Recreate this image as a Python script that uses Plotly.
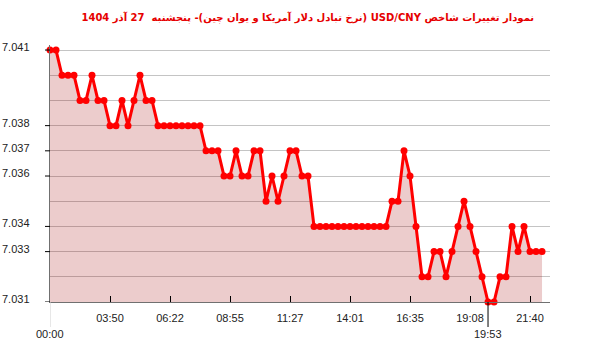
import plotly.graph_objects as go
import numpy as np

# Data (one value per sample, left to right)
values = [
    7.041, 7.041, 7.040, 7.040, 7.040, 7.039, 7.039, 7.040, 7.039, 7.039,
    7.038, 7.038, 7.039, 7.038, 7.039, 7.040, 7.039, 7.039, 7.038, 7.038,
    7.038, 7.038, 7.038, 7.038, 7.038, 7.038, 7.037, 7.037, 7.037, 7.036,
    7.036, 7.037, 7.036, 7.036, 7.037, 7.037, 7.035, 7.036, 7.035, 7.036,
    7.037, 7.037, 7.036, 7.036, 7.034, 7.034, 7.034, 7.034, 7.034, 7.034,
    7.034, 7.034, 7.034, 7.034, 7.034, 7.034, 7.034, 7.035, 7.035, 7.037,
    7.036, 7.034, 7.032, 7.032, 7.033, 7.033, 7.032, 7.033, 7.034, 7.035,
    7.034, 7.033, 7.032, 7.031, 7.031, 7.032, 7.032, 7.034, 7.033, 7.034,
    7.033, 7.033, 7.033,
]
x_idx = list(range(len(values)))

tick_idx = [10, 20, 30, 40, 50, 60, 70, 80]
tick_text = ["03:50", "06:22", "08:55", "11:27", "14:01", "16:35", "19:08", "21:40"]
extreme_text = {"max": "00:00", "min": "19:53"}

y_grid_start = 7.031
y_grid_step = 0.001
y_labels = [7.041, 7.038, 7.037, 7.036, 7.034, 7.033, 7.031]

title_text = "\u202bنمودار تغییرات شاخص USD/CNY (نرخ تبادل دلار آمریکا و یوان چین)- پنجشنبه  27 آذر 1404\u202c"

RED = "#ff0000"
FONT = "Liberation Sans"

fig = go.Figure()
fig.add_trace(go.Scatter(
    x=x_idx, y=values, mode="lines+markers",
    line=dict(color=RED, width=3),
    marker=dict(color=RED, size=7),
    fill="tozeroy", fillcolor="rgba(160,0,0,0.2)",
    cliponaxis=False, hoverinfo="skip",
))

i_max = int(np.argmax(values))
i_min = int(np.argmin(values))

shapes = []
annotations = []
plot_h = 257.0
plot_w = 500.0
# y tick marks and labels
for v in y_labels:
    shapes.append(dict(type="line", xref="paper", yref="y", x0=-5 / plot_w, x1=0,
                       y0=v, y1=v, line=dict(color="#000000", width=1)))
    annotations.append(dict(xref="paper", yref="y", x=-18 / plot_w, y=v, yshift=3,
                            text=f"{v:.3f}", showarrow=False, xanchor="right",
                            font=dict(family=FONT, size=11, color="#222222")))
# extreme labels below axis
for idx, txt, col in [(i_max, extreme_text["max"], "#d0d0d0"), (i_min, extreme_text["min"], "#000000")]:
    shapes.append(dict(type="line", xref="x", yref="paper", x0=idx, x1=idx,
                       y0=0, y1=-25 / plot_h, line=dict(color=col, width=1)))
    annotations.append(dict(xref="x", yref="paper", x=idx, y=0, yshift=-24,
                            text=txt, showarrow=False, yanchor="top",
                            font=dict(family=FONT, size=11, color="#222222")))

fig.update_layout(
    width=600, height=352,
    margin=dict(l=50, r=50, t=45, b=50),
    paper_bgcolor="white", plot_bgcolor="white",
    showlegend=False,
    title=dict(text=title_text, x=0.513, xanchor="center", y=1 - 17 / 352, yanchor="middle",
               font=dict(family="DejaVu Sans", size=10, color="#e60000", weight="bold")),
    shapes=shapes, annotations=annotations,
)
fig.update_xaxes(
    range=[0, 83.33], tickmode="array", tickvals=tick_idx, ticktext=tick_text,
    ticks="inside", ticklen=6, tickcolor="#000000", tickwidth=1,
    showgrid=False, zeroline=False, showline=True, linecolor="#707070", linewidth=1,
    tickfont=dict(family=FONT, size=11, color="#222222"), ticklabelstandoff=6,
)
fig.update_yaxes(
    range=[7.031, 7.0412], tick0=y_grid_start, dtick=y_grid_step,
    showgrid=True, gridcolor="#c4c4c4", gridwidth=1,
    showticklabels=False, ticks="", zeroline=False,
    showline=True, linecolor="#707070", linewidth=1,
)

fig.write_html("out.html")
